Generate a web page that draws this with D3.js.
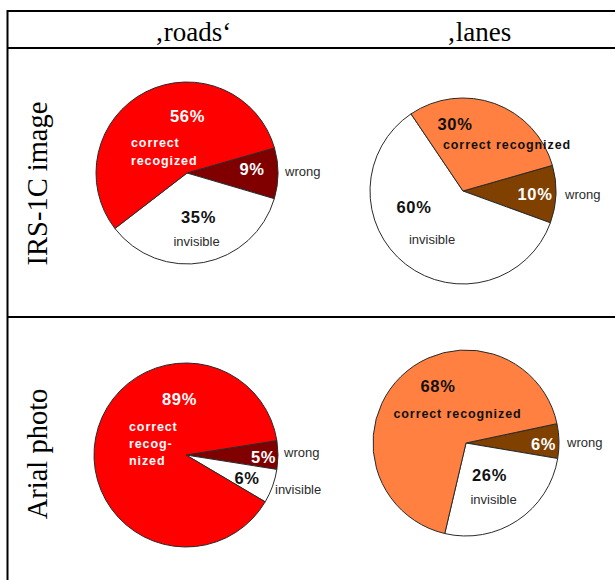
<!DOCTYPE html>
<html>
<head>
<meta charset="utf-8">
<script src="https://cdn.jsdelivr.net/npm/d3@7"></script>
<style>
  html, body { margin: 0; padding: 0; background: #fff; }
  svg { display: block; }
</style>
</head>
<body>
<svg id="chart" width="615" height="580"></svg>
<script>
// ---- data ----
const columnHeaders = ["\u201Aroads\u2018", "\u201Alanes"];
const rowHeaders = ["IRS-1C image", "Arial photo"];
const categories = ["wrong", "invisible", "correct recognized"];
const roadsIRS = [9, 35, 56];
const lanesIRS = [10, 60, 30];
const roadsArial = [5, 6, 89];
const lanesArial = [6, 26, 68];
const categoryLabelsRoadsIRS = ["wrong", "invisible", ["correct", "recogized"]];
const categoryLabelsLanesIRS = ["wrong", "invisible", ["correct recognized"]];
const categoryLabelsRoadsArial = ["wrong", "invisible", ["correct", "recog-", "nized"]];
const categoryLabelsLanesArial = ["wrong", "invisible", ["correct recognized"]];

// ---- styles / layout ----
const roadColors = ["#800000", "#FFFFFF", "#FF0000"];
const laneColors = ["#804000", "#FFFFFF", "#FF8040"];
const pctColorsRoad = ["#FFFFFF", "#111111", "#FFFFFF"];
const pctColorsLane = ["#FFFFFF", "#111111", "#111111"];

const pies = [
  { values: roadsIRS, names: categoryLabelsRoadsIRS, colors: roadColors, pctColors: pctColorsRoad,
    cx: 187, cy: 173, r: 91, start: 74,
    pct: [[65, 2], [11.5, 50], [0.5, -51]],
    name: [[98, 3, "start"], [9.5, 73, "middle"], [-56, -26, "start", 17.5]] },
  { values: lanesIRS, names: categoryLabelsLanesIRS, colors: laneColors, pctColors: pctColorsLane,
    cx: 463, cy: 191, r: 93, start: 74,
    pct: [[72, 9], [-49, 22], [-8, -61]],
    name: [[102, 8, "start"], [-31, 53, "middle"], [44, -42, "middle", 17]] },
  { values: roadsArial, names: categoryLabelsRoadsArial, colors: roadColors, pctColors: pctColorsRoad,
    cx: 186, cy: 455, r: 92, start: 81,
    pct: [[77.5, 8], [61, 29], [-6.5, -50]],
    name: [[98, 2, "start"], [89, 39, "start"], [-57, -24, "start", 17]] },
  { values: lanesArial, names: categoryLabelsLanesArial, colors: laneColors, pctColors: pctColorsLane,
    cx: 466, cy: 443, r: 93, start: 78,
    pct: [[77.5, 7], [23.5, 38], [-28, -51]],
    name: [[101, 4, "start"], [27.5, 61, "middle"], [-8.5, -25, "middle", 17]] }
];

const svg = d3.select("#chart");
svg.append("rect").attr("width", 615).attr("height", 580).attr("fill", "#fff");

// ---- table grid ----
const grid = svg.append("g").attr("stroke", "#000").attr("stroke-width", 2);
grid.append("line").attr("x1", 7.5).attr("x2", 615).attr("y1", 11).attr("y2", 11);
grid.append("line").attr("x1", 7.5).attr("x2", 615).attr("y1", 48).attr("y2", 48);
grid.append("line").attr("x1", 7.5).attr("x2", 615).attr("y1", 317).attr("y2", 317);
grid.append("line").attr("x1", 7.5).attr("x2", 7.5).attr("y1", 10).attr("y2", 580);

// ---- headers ----
const serif = "'Liberation Serif', 'Times New Roman', serif";
const headerX = [193, 479];
svg.selectAll("text.colhead").data(columnHeaders).join("text")
  .attr("class", "colhead")
  .attr("x", (d, i) => headerX[i]).attr("y", 41)
  .attr("text-anchor", "middle")
  .attr("font-family", serif).attr("font-size", 27)
  .text(d => d);

const rowY = [183.5, 454];
svg.selectAll("text.rowhead").data(rowHeaders).join("text")
  .attr("class", "rowhead")
  .attr("transform", (d, i) => `translate(47,${rowY[i]}) rotate(-90)`)
  .attr("text-anchor", "middle")
  .attr("font-family", serif).attr("font-size", 28.5)
  .text(d => d);

// ---- pies ----
const sans = "'Liberation Sans', Arial, sans-serif";
const rad = a => a * Math.PI / 180;

pies.forEach(p => {
  const pie = d3.pie().sort(null).value(d => d)
    .startAngle(rad(p.start)).endAngle(rad(p.start) + 2 * Math.PI);
  const arc = d3.arc().innerRadius(0).outerRadius(p.r);
  const g = svg.append("g").attr("transform", `translate(${p.cx},${p.cy})`);

  g.selectAll("path").data(pie(p.values)).join("path")
    .attr("d", arc)
    .attr("fill", (d, i) => p.colors[i])
    .attr("stroke", "#2a2a2a").attr("stroke-width", 1)
    .attr("stroke-linejoin", "round");

  // percentage labels
  g.selectAll("text.pct").data(p.values).join("text")
    .attr("class", "pct")
    .attr("x", (d, i) => p.pct[i][0]).attr("y", (d, i) => p.pct[i][1])
    .attr("text-anchor", "middle")
    .attr("font-family", sans).attr("font-weight", "bold").attr("font-size", 16.5)
    .attr("letter-spacing", 0.6)
    .attr("fill", (d, i) => p.pctColors[i])
    .text(d => d + "%");

  // category labels
  p.names.forEach((nm, i) => {
    const pos = p.name[i];
    if (Array.isArray(nm)) {
      const t = g.append("text")
        .attr("x", pos[0]).attr("y", pos[1])
        .attr("text-anchor", pos[2])
        .attr("font-family", sans).attr("font-weight", "bold").attr("font-size", 12.5)
        .attr("letter-spacing", 0.9)
        .attr("fill", p.pctColors[2]);
      nm.forEach((line, k) => {
        t.append("tspan").attr("x", pos[0]).attr("y", pos[1] + k * pos[3]).text(line);
      });
    } else {
      g.append("text")
        .attr("x", pos[0]).attr("y", pos[1])
        .attr("text-anchor", pos[2])
        .attr("font-family", sans).attr("font-size", 13)
        .attr("fill", "#2b2b2b")
        .text(nm);
    }
  });
});
</script>
</body>
</html>
